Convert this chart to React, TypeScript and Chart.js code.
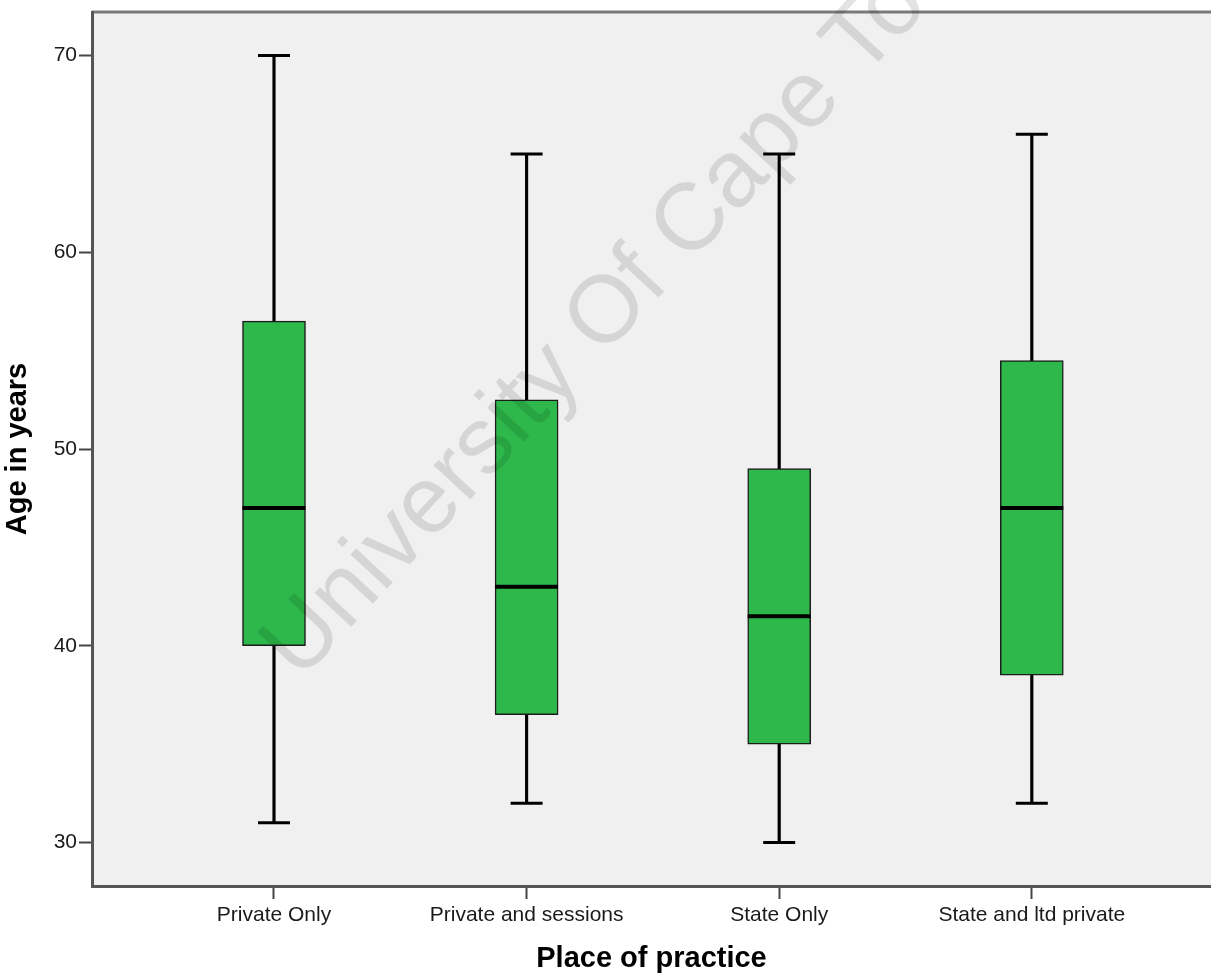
import { useEffect, useRef } from 'react';
import { Chart, registerables } from 'chart.js';

Chart.register(...registerables);

const categories = ['Private Only', 'Private and sessions', 'State Only', 'State and ltd private'];
const whiskerLow = [31, 32, 30, 32];
const q1 = [40, 36.5, 35, 38.5];
const medians = [47, 43, 41.5, 47];
const q3 = [56.5, 52.5, 49, 54.5];
const whiskerHigh = [70, 65, 65, 66];
const yTicks = [30, 40, 50, 60, 70];
const yTitle = 'Age in years';
const xTitle = 'Place of practice';
const watermark = 'University Of Cape Town';

const FONT = '"Liberation Sans", Arial, sans-serif';

const framePlugin = {
  id: 'frame',
  beforeDraw(chart: any) {
    const { ctx, chartArea: a } = chart;
    ctx.save();
    ctx.fillStyle = '#f0f0f0';
    ctx.fillRect(a.left, a.top, a.right - a.left, a.bottom - a.top);
    ctx.strokeStyle = '#7a7a7a';
    ctx.lineWidth = 3;
    ctx.beginPath();
    ctx.moveTo(a.left, a.top);
    ctx.lineTo(a.right, a.top);
    ctx.stroke();
    ctx.restore();
  },
};

const watermarkPlugin = {
  id: 'watermark',
  afterDraw(chart: any) {
    const { ctx } = chart;
    ctx.save();
    ctx.translate(300, 682);
    ctx.rotate((-47 * Math.PI) / 180);
    ctx.font = `95px ${FONT}`;
    ctx.fillStyle = 'rgba(0,0,0,0.11)';
    ctx.textBaseline = 'alphabetic';
    ctx.fillText(watermark, 0, 0);
    ctx.restore();
  },
};

export default function App() {
  const ref = useRef<HTMLCanvasElement>(null);

  useEffect(() => {
    const canvas = ref.current;
    if (!canvas) return;
    const idx = categories.map((_, i) => i);
    const chart = new Chart(canvas, {
      type: 'bar',
      data: {
        datasets: [
          {
            type: 'scatter',
            label: 'Median',
            data: idx.map((i) => ({ x: i, y: medians[i] })),
            pointStyle: 'line',
            pointRadius: 31.5,
            pointHoverRadius: 31.5,
            pointBorderWidth: 4,
            pointHoverBorderWidth: 4,
            pointBorderColor: '#000',
            pointBackgroundColor: '#000',
            order: 0,
          } as any,
          {
            type: 'scatter',
            label: 'Whisker caps',
            data: [
              ...idx.map((i) => ({ x: i, y: whiskerLow[i] })),
              ...idx.map((i) => ({ x: i, y: whiskerHigh[i] })),
            ],
            pointStyle: 'line',
            pointRadius: 16,
            pointHoverRadius: 16,
            pointBorderWidth: 3,
            pointHoverBorderWidth: 3,
            pointBorderColor: '#000',
            pointBackgroundColor: '#000',
            order: 1,
          } as any,
          {
            type: 'bar',
            label: 'Box',
            data: idx.map((i) => ({ x: i, y: [q1[i], q3[i]] })),
            backgroundColor: '#2eb84b',
            borderColor: '#1c1c1c',
            borderWidth: 1.5,
            borderSkipped: false,
            barThickness: 63,
            grouped: false,
            order: 2,
          } as any,
          {
            type: 'bar',
            label: 'Whisker',
            data: idx.map((i) => ({ x: i, y: [whiskerLow[i], whiskerHigh[i]] })),
            backgroundColor: '#000',
            borderWidth: 0,
            barThickness: 2.5,
            grouped: false,
            order: 3,
          } as any,
        ],
      },
      options: {
        responsive: false,
        animation: false,
        devicePixelRatio: 1,
        layout: { autoPadding: false, padding: { top: 12, left: 0, right: 0, bottom: 0 } },
        plugins: {
          legend: { display: false },
          tooltip: { enabled: false },
        },
        events: [],
        scales: {
          x: {
            type: 'linear',
            min: -0.7205,
            max: 3.7094,
            offset: false,
            afterBuildTicks: (s: any) => {
              s.ticks = categories.map((_, i) => ({ value: i }));
            },
            afterFit: (s: any) => {
              s.height = 90;
              s.paddingLeft = 0;
              s.paddingRight = 0;
            },
            ticks: {
              callback: (v: any) => categories[Math.round(Number(v))] ?? '',
              font: { family: FONT, size: 21 },
              color: '#1a1a1a',
              padding: 4,
              maxRotation: 0,
              autoSkip: false,
            },
            grid: {
              display: true,
              drawOnChartArea: false,
              drawTicks: true,
              tickLength: 13,
              tickWidth: 2,
              tickColor: '#444',
              offset: false,
            },
            border: { display: true, color: '#555', width: 3 },
            title: {
              display: true,
              text: xTitle,
              font: { family: FONT, size: 29, weight: 'bold' },
              color: '#000',
              padding: { top: 0, bottom: 0 },
            },
          } as any,
          y: {
            type: 'linear',
            min: 27.789,
            max: 72.211,
            afterBuildTicks: (s: any) => {
              s.ticks = yTicks.map((v) => ({ value: v }));
            },
            afterFit: (s: any) => {
              s.width = 92;
              s.paddingTop = 0;
              s.paddingBottom = 0;
            },
            ticks: {
              callback: (v: any) => String(v),
              font: { family: FONT, size: 21 },
              color: '#1a1a1a',
              padding: 2,
            },
            grid: {
              display: true,
              drawOnChartArea: false,
              drawTicks: true,
              tickLength: 13,
              tickWidth: 2,
              tickColor: '#444',
            },
            border: { display: true, color: '#555', width: 3 },
            title: {
              display: true,
              text: yTitle,
              font: { family: FONT, size: 29, weight: 'bold' },
              color: '#000',
              padding: { top: 1, bottom: 0 },
            },
          } as any,
        },
      },
      plugins: [framePlugin, watermarkPlugin],
    });
    return () => chart.destroy();
  }, []);

  return (
    <div style={{ position: 'absolute', left: 0, top: 0, width: 1211, height: 976, overflow: 'hidden', background: '#fff' }}>
      <canvas ref={ref} width={1211} height={976} style={{ display: 'block', width: 1211, height: 976 }} />
    </div>
  );
}
